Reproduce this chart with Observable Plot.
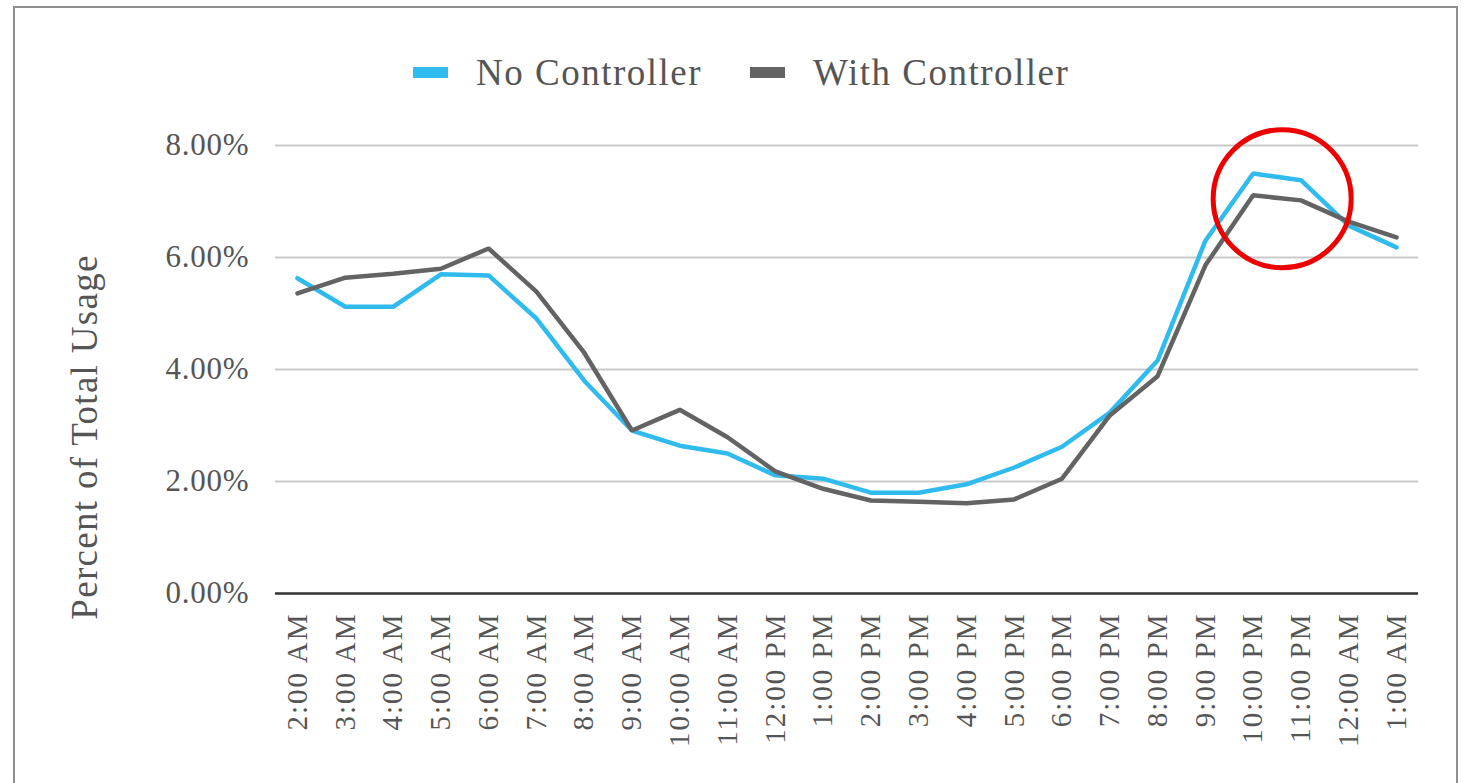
<!DOCTYPE html>
<html>
<head>
<meta charset="utf-8">
<script src="https://cdn.jsdelivr.net/npm/d3@7"></script>
<script src="https://cdn.jsdelivr.net/npm/@observablehq/plot@0.6"></script>
<style>
  html, body { margin: 0; padding: 0; background: #fff; overflow: hidden; }
  #frame { position: relative; width: 1465px; height: 783px; background: #fff; overflow: hidden; }
  #border { position: absolute; left: 13px; top: 6px; width: 1445px; height: 820px; border: 2px solid #8f8f8f; box-sizing: border-box; }
  #legend { position: absolute; left: 0; top: 0; width: 1465px; height: 110px; font-family: "Liberation Serif", "Times New Roman", serif; font-size: 37px; color: #555; }
  .item { position: absolute; top: 49px; display: flex; align-items: center; height: 46px; }
  .sw { width: 35px; height: 11px; margin-right: 28px; }
  #chart { position: absolute; left: 0; top: 110px; }
  #chart svg { font-family: "Liberation Serif", "Times New Roman", serif; }
</style>
</head>
<body>
<div id="frame">
  <div id="border"></div>
  <div id="legend"></div>
  <div id="chart"></div>
</div>
<script>
const hours = ["2:00 AM","3:00 AM","4:00 AM","5:00 AM","6:00 AM","7:00 AM","8:00 AM","9:00 AM","10:00 AM","11:00 AM","12:00 PM","1:00 PM","2:00 PM","3:00 PM","4:00 PM","5:00 PM","6:00 PM","7:00 PM","8:00 PM","9:00 PM","10:00 PM","11:00 PM","12:00 AM","1:00 AM"];
const noController = [5.63,5.12,5.12,5.70,5.68,4.91,3.80,2.91,2.64,2.50,2.11,2.05,1.80,1.80,1.95,2.25,2.62,3.23,4.16,6.30,7.50,7.38,6.57,6.18];
const withController = [5.36,5.64,5.71,5.80,6.16,5.39,4.30,2.91,3.28,2.79,2.18,1.87,1.66,1.64,1.61,1.68,2.05,3.18,3.88,5.86,7.11,7.02,6.64,6.36];
const seriesNames = ["No Controller","With Controller"];
const seriesColors = ["#30bbef","#636363"];
const yTicks = [0,2,4,6,8];
const highlightHour = ["10:00 PM"];
const highlightValue = [7.05];

const rows = [];
hours.forEach((h,i) => {
  rows.push({hour: h, series: seriesNames[0], value: noController[i]});
  rows.push({hour: h, series: seriesNames[1], value: withController[i]});
});
const highlight = highlightHour.map((h,i) => ({hour: h, value: highlightValue[i]}));

// Legend
const legend = document.getElementById("legend");
const legendLeft = [413, 750];
seriesNames.forEach((name, i) => {
  const it = document.createElement("div");
  it.className = "item";
  it.style.left = legendLeft[i] + "px";
  const sw = document.createElement("div");
  sw.className = "sw";
  sw.style.background = seriesColors[i];
  const tx = document.createElement("span");
  tx.textContent = name;
  tx.style.letterSpacing = "1.5px";
  it.appendChild(sw); it.appendChild(tx);
  legend.appendChild(it);
});

const plot = Plot.plot({
  width: 1465,
  height: 673,
  marginLeft: 275,
  marginRight: 47,
  marginTop: 35,
  marginBottom: 190,
  style: {background: "transparent", fontFamily: "Liberation Serif, serif"},
  x: {type: "point", domain: hours, padding: 0.46, round: false, label: null},
  y: {domain: [0, 8], label: null},
  color: {domain: seriesNames, range: seriesColors},
  marks: [
    Plot.gridY(yTicks.filter(d => d > 0), {stroke: "#c9c9c9", strokeOpacity: 1, strokeWidth: 2}),
    Plot.axisY({ticks: yTicks, tickSize: 0, tickPadding: 26, tickFormat: d => d.toFixed(2) + "%", fontSize: 31, fill: "#555", label: null}),
    Plot.axisX({tickSize: 0, tickPadding: 19, tickRotate: -90, fontSize: 29, fill: "#555", label: null}),
    Plot.ruleY([0], {stroke: "#333", strokeWidth: 2.5}),
    Plot.line(rows, {x: "hour", y: "value", z: "series", stroke: "series", strokeWidth: 4.5, strokeLinejoin: "miter"}),
    Plot.dot(highlight, {x: "hour", y: "value", dx: 29, r: 69, stroke: "#ee0000", strokeWidth: 5, fill: "none"})
  ]
});
document.getElementById("chart").appendChild(plot);

const svg = d3.select(plot);
// letter spacing on tick labels
svg.selectAll("[aria-label='x-axis tick label'] text").attr("letter-spacing", "2px");
svg.selectAll("[aria-label='y-axis tick label'] text").attr("letter-spacing", "0.8px");

// Y axis title
svg.append("text")
  .attr("transform", "translate(97,327) rotate(-90)")
  .attr("text-anchor", "middle")
  .attr("font-size", 37)
  .attr("letter-spacing", "1.3px")
  .attr("fill", "#555")
  .text("Percent of Total Usage");
</script>
</body>
</html>
